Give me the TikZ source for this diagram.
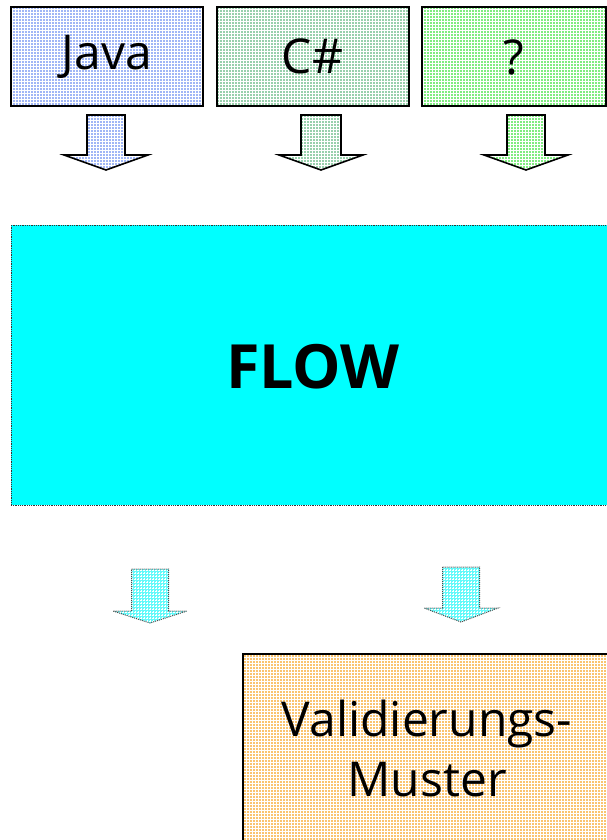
\documentclass[tikz,border=0pt]{standalone}
\usepackage{fontspec}
\setmainfont{Open Sans}
\usetikzlibrary{patterns}

\definecolor{javafill}{RGB}{160,182,246}
\definecolor{csfill}{RGB}{152,208,172}
\definecolor{qfill}{RGB}{128,236,128}
\definecolor{flowfill}{RGB}{0,255,255}
\definecolor{outfill}{RGB}{250,196,112}
\definecolor{cyanarrow}{RGB}{100,250,250}

\tikzset{
  % solid colour underneath, light grid over it, outline on top
  meshfill/.style={preaction={fill=#1, fill opacity=1}, pattern=grid,
    pattern color=white, fill opacity=0.5, text opacity=1},
  lang/.style={draw=black, line width=2pt, minimum width=192pt, minimum height=99pt,
    inner sep=0pt, font=\fontsize{48}{54}\selectfont},
  blockarrow/.style={draw=black, line width=1.6pt, line join=miter},
  softarrow/.style={draw=black!70, line width=1pt, densely dotted},
}

% down-pointing block arrow: style, centre x, top y, shaft half width, shoulder y, head half width, tip y
\newcommand\downblock[7]{%
  \path[#1] (#2-#4,#3) -- (#2+#4,#3) -- (#2+#4,#5) -- (#2+#6,#5) -- (#2,#7)
    -- (#2-#6,#5) -- (#2-#4,#5) -- cycle;}

\begin{document}
\begin{tikzpicture}[x=1pt,y=-1pt]
\useasboundingbox (0,0) rectangle (607,840);

% source languages
\node[lang, meshfill=javafill] (java) at (107,56.5) {Java};
\node[lang, meshfill=csfill] (cs) at (312.5,56.5) {C\#};
\node[lang, meshfill=qfill, minimum width=184pt] (q) at (514,57) {?};

% arrows into FLOW
\downblock{blockarrow, meshfill=javafill}{106}{115}{19}{155}{42}{170}
\downblock{blockarrow, meshfill=csfill}{321}{115}{20}{155}{42}{170}
\downblock{blockarrow, meshfill=qfill}{526}{115}{19}{155}{42}{170}

% FLOW
\node[draw=black!80, densely dotted, line width=0.8pt, fill=flowfill,
  minimum width=610pt, minimum height=280pt, inner sep=0pt,
  anchor=north west] (flow) at (10.5,225) {};
\node[font=\fontsize{61}{66}\selectfont\bfseries] (flowtext) at (313,367) {FLOW};

% arrows out of FLOW
\downblock{softarrow, meshfill=cyanarrow}{150}{569}{18.5}{611}{37}{623}
\downblock{softarrow, meshfill=cyanarrow}{461}{567}{18.5}{608}{37}{622}

% validation patterns
\node[draw=black, line width=2pt, meshfill=outfill, minimum width=380pt,
  minimum height=200pt, inner sep=0pt, anchor=north west] (val) at (242,653) {};
\node[font=\fontsize{48}{60}\selectfont, align=center] (valtext) at (427,748)
  {Validierungs-\\Muster};
\end{tikzpicture}
\end{document}
